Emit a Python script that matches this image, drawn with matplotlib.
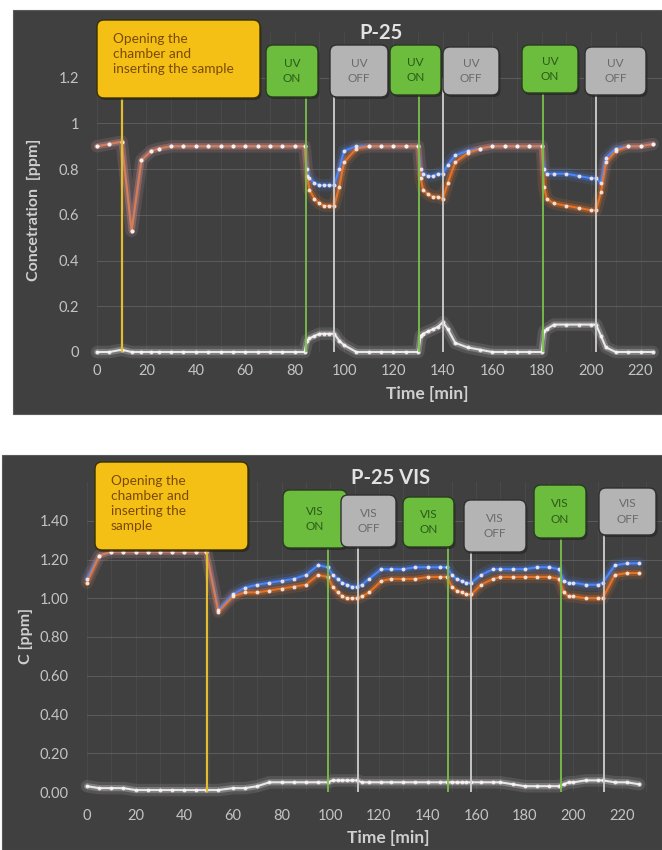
import matplotlib
matplotlib.use('Agg')
import matplotlib.pyplot as plt
from matplotlib.patches import FancyBboxPatch, Rectangle
from matplotlib.transforms import Affine2D

plt.rcParams['font.family'] = ['Lato', 'DejaVu Sans']

# ---- P-25 (UV) data ----
t_top = [0, 5, 10, 14, 18, 22, 25, 30, 35, 40, 45, 50, 55, 60, 65, 70, 75, 80, 84,
         85, 86, 88, 90, 92, 94, 96, 98, 100, 105, 110, 115, 120, 125, 130,
         131, 132, 134, 136, 138, 140, 142, 145, 150, 155, 160, 165, 170, 175, 180,
         181, 182, 185, 190, 195, 200, 202, 204, 206, 210, 215, 220, 225]
blue_top = [0.90, 0.91, 0.92, 0.53, 0.84, 0.88, 0.89, 0.90, 0.90, 0.90, 0.90, 0.90, 0.90, 0.90, 0.90, 0.90, 0.90, 0.90, 0.90,
            0.80, 0.76, 0.74, 0.73, 0.73, 0.73, 0.73, 0.80, 0.88, 0.90, 0.90, 0.90, 0.90, 0.90, 0.90,
            0.80, 0.78, 0.77, 0.77, 0.78, 0.78, 0.82, 0.86, 0.88, 0.89, 0.90, 0.90, 0.90, 0.90, 0.90,
            0.80, 0.78, 0.78, 0.78, 0.77, 0.76, 0.76, 0.74, 0.85, 0.89, 0.90, 0.90, 0.91]
orange_top = [0.90, 0.91, 0.92, 0.53, 0.84, 0.88, 0.89, 0.90, 0.90, 0.90, 0.90, 0.90, 0.90, 0.90, 0.90, 0.90, 0.90, 0.90, 0.90,
              0.77, 0.71, 0.67, 0.65, 0.64, 0.64, 0.64, 0.72, 0.83, 0.89, 0.90, 0.90, 0.90, 0.90, 0.90,
              0.76, 0.71, 0.69, 0.68, 0.68, 0.67, 0.74, 0.83, 0.87, 0.89, 0.90, 0.90, 0.90, 0.90, 0.90,
              0.72, 0.67, 0.65, 0.64, 0.63, 0.62, 0.62, 0.70, 0.83, 0.88, 0.90, 0.90, 0.91]
white_top = [0.00, 0.00, 0.01, 0.00, 0.00, 0.00, 0.00, 0.00, 0.00, 0.00, 0.00, 0.00, 0.00, 0.00, 0.00, 0.00, 0.00, 0.00, 0.00,
             0.05, 0.06, 0.07, 0.08, 0.08, 0.08, 0.08, 0.05, 0.03, 0.00, 0.00, 0.00, 0.00, 0.00, 0.00,
             0.07, 0.08, 0.09, 0.10, 0.11, 0.13, 0.10, 0.04, 0.02, 0.01, 0.00, 0.00, 0.00, 0.00, 0.00,
             0.09, 0.10, 0.12, 0.12, 0.12, 0.12, 0.12, 0.07, 0.02, 0.00, 0.00, 0.00, 0.00]
events_top = [10, 84.5, 96, 130.5, 140, 180.5, 202]
kinds_top = ['open', 'on', 'off', 'on', 'off', 'on', 'off']
labels_top = ['Opening the\nchamber and\ninserting the sample',
              'UV\nON', 'UV\nOFF', 'UV\nON', 'UV\nOFF', 'UV\nON', 'UV\nOFF']

# ---- P-25 VIS data ----
t_bot = [0, 5, 10, 15, 20, 25, 30, 35, 40, 45, 49, 54, 60, 65, 70, 75, 80, 85, 90, 95,
         99, 101, 103, 105, 107, 109, 111, 113, 116, 121, 125, 130, 135, 140, 145,
         148, 150, 152, 154, 156, 158, 162, 167, 170, 175, 180, 185, 190, 194,
         196, 198, 200, 205, 210, 212, 217, 222, 227]
blue_bot = [1.10, 1.22, 1.24, 1.24, 1.24, 1.24, 1.24, 1.24, 1.24, 1.24, 1.24, 0.94, 1.02, 1.055, 1.07, 1.08, 1.09, 1.10, 1.12, 1.17,
            1.16, 1.12, 1.10, 1.08, 1.07, 1.06, 1.06, 1.07, 1.10, 1.15, 1.15, 1.15, 1.16, 1.16, 1.16,
            1.16, 1.12, 1.10, 1.09, 1.08, 1.08, 1.12, 1.15, 1.15, 1.15, 1.15, 1.16, 1.16, 1.15,
            1.09, 1.08, 1.08, 1.07, 1.07, 1.08, 1.17, 1.18, 1.18]
orange_bot = [1.08, 1.22, 1.24, 1.24, 1.24, 1.24, 1.24, 1.24, 1.24, 1.24, 1.24, 0.93, 1.01, 1.03, 1.03, 1.04, 1.05, 1.06, 1.07, 1.12,
              1.11, 1.06, 1.03, 1.01, 1.00, 1.00, 1.00, 1.01, 1.03, 1.09, 1.10, 1.10, 1.10, 1.11, 1.11,
              1.11, 1.06, 1.04, 1.03, 1.02, 1.02, 1.07, 1.10, 1.11, 1.11, 1.11, 1.11, 1.11, 1.10,
              1.03, 1.01, 1.01, 1.00, 1.00, 1.00, 1.12, 1.13, 1.13]
white_bot = [0.03, 0.02, 0.02, 0.02, 0.01, 0.01, 0.01, 0.01, 0.01, 0.01, 0.01, 0.01, 0.02, 0.02, 0.03, 0.05, 0.05, 0.05, 0.05, 0.05,
             0.05, 0.06, 0.06, 0.06, 0.06, 0.06, 0.06, 0.05, 0.05, 0.05, 0.05, 0.05, 0.05, 0.05, 0.05,
             0.05, 0.05, 0.05, 0.05, 0.05, 0.05, 0.05, 0.05, 0.05, 0.04, 0.03, 0.03, 0.03, 0.03,
             0.04, 0.05, 0.05, 0.06, 0.06, 0.06, 0.05, 0.05, 0.04]
events_bot = [49.3, 99, 111.4, 148.4, 157.9, 194.9, 212.6]
kinds_bot = ['open', 'on', 'off', 'on', 'off', 'on', 'off']
labels_bot = ['Opening the\nchamber and\ninserting the\nsample',
              'VIS\nON', 'VIS\nOFF', 'VIS\nON', 'VIS\nOFF', 'VIS\nON', 'VIS\nOFF']

# layout (pixels, top-left origin): boxes as (x0, y0, x1, y1)
boxes_top = [(97, 20, 260, 98), (266, 45, 318, 97), (330, 45, 388, 97), (390, 45, 441, 95),
             (443, 47, 499, 95), (522, 45, 578, 93), (585, 47, 646, 95)]
boxes_bot = [(95, 462, 248, 550), (283, 490, 347, 548), (341, 495, 396, 547), (403, 497, 454, 547),
             (464, 500, 526, 552), (534, 485, 586, 538), (599, 488, 656, 535)]

W, H = 662, 850
BG = '#404040'
face = {'open': '#f5c016', 'on': '#6cbd3e', 'off': '#b4b4b4'}
edge = {'open': '#3a3000', 'on': '#2a3a20', 'off': '#303030'}
tcol = {'open': '#7a4a05', 'on': '#2b5a18', 'off': '#6a6a6a'}
vcol = {'open': '#e2bd30', 'on': '#79c04a', 'off': '#cfcfcf'}
LBL = '#cfcfcf'

fig = plt.figure(figsize=(W / 100, H / 100), dpi=100, facecolor='white')
px = Affine2D().scale(1 / W, -1 / H).translate(0, 1) + fig.transFigure

# dark panels
fig.patches.append(Rectangle((13, 10), W - 13, 404, transform=px, facecolor=BG, edgecolor='#5a5a5a', lw=0.8, zorder=-2))
fig.patches.append(Rectangle((2, 455), W - 2, H - 455, transform=px, facecolor=BG, edgecolor='#5a5a5a', lw=0.8, zorder=-2))


def glow(ax, t, y, c, a=1.0):
    ax.plot(t, y, color=c, lw=9, alpha=0.12, solid_capstyle='round', clip_on=False, zorder=3)
    ax.plot(t, y, color=c, lw=4.5, alpha=0.28, solid_capstyle='round', clip_on=False, zorder=3)
    ax.plot(t, y, color=c, lw=1.5, alpha=a, clip_on=False, zorder=4)
    ax.plot(t, y, 'o', ms=2.8, color='#fff4f4', alpha=0.85, mec='none', clip_on=False, zorder=5)


def setup(ax, xmax, ymax, yticks, fmt, xpad, ypad):
    ax.set_facecolor(BG)
    ax.set_xlim(0, xmax)
    ax.set_ylim(0, ymax)
    for s in ax.spines.values():
        s.set_visible(False)
    ax.set_xticks(range(0, 221, 20))
    ax.set_xticks(range(0, int(xmax) + 1, 10), minor=True)
    ax.set_yticks(yticks)
    ax.set_yticklabels([fmt.format(v) for v in yticks])
    ax.tick_params(which='both', length=0, colors='#c4c4c4', labelsize=10.5)
    ax.tick_params(axis='x', pad=xpad)
    ax.tick_params(axis='y', pad=ypad)
    ax.grid(axis='y', color='#5c5c5c', lw=0.7)
    ax.grid(axis='x', which='both', color='#4b4b4b', lw=0.6)
    ax.set_axisbelow(True)


def events(ax, ev, kinds, top):
    for t, k in zip(ev, kinds):
        ax.vlines(t, 0, top, color=vcol[k], lw=1.6 if k == 'open' else 1.3, zorder=6, clip_on=False)


def callouts(boxes, kinds, labels):
    for (x0, y0, x1, y1), k, lab in zip(boxes, kinds, labels):
        fig.patches.append(FancyBboxPatch((x0 + 1.5, y0 + 2), x1 - x0, y1 - y0, transform=px,
                                          boxstyle='round,pad=0,rounding_size=7', facecolor='#202020',
                                          edgecolor='none', alpha=0.6, zorder=2))
        fig.patches.append(FancyBboxPatch((x0, y0), x1 - x0, y1 - y0, transform=px,
                                          boxstyle='round,pad=0,rounding_size=7', facecolor=face[k],
                                          edgecolor=edge[k], lw=1.0, zorder=3))
        if k == 'open':
            fig.text((x0 + 16) / W, 1 - (y0 + 13) / H, lab, fontsize=9.8, color=tcol[k], va='top',
                     ha='left', linespacing=1.3, zorder=4)
        else:
            fig.text((x0 + x1) / 2 / W, 1 - (y0 + y1) / 2 / H, lab, fontsize=8.5, color=tcol[k],
                     va='center', ha='center', linespacing=1.5, zorder=4)


# ---- top chart ----
ax1 = fig.add_axes([97 / W, 1 - 352 / H, (W - 97) / W, 320 / H])
setup(ax1, 228.7, 1.4, [0, 0.2, 0.4, 0.6, 0.8, 1.0, 1.2], '{:g}', 9, 13)
events(ax1, events_top, kinds_top, 1.2)
glow(ax1, t_top, white_top, '#e8e8e8')
glow(ax1, t_top, blue_top, '#4a86ff')
glow(ax1, t_top, orange_top, '#ff7a22', 0.8)
callouts(boxes_top, kinds_top, labels_top)
fig.text(381 / W, 1 - 33 / H, 'P-25', fontsize=14.5, fontweight='bold', color='#e2e2e2', ha='center', va='center')
fig.text(34 / W, 1 - 210 / H, 'Concetration  [ppm]', fontsize=11.5, fontweight='bold', color=LBL,
         rotation=90, ha='center', va='center')
fig.text(427 / W, 1 - 394 / H, 'Time [min]', fontsize=12.5, fontweight='bold', color=LBL, ha='center', va='center')

# ---- bottom chart ----
ax2 = fig.add_axes([87 / W, 1 - 792 / H, (W - 87) / W, 310 / H])
setup(ax2, 236.4, 1.6, [0, 0.2, 0.4, 0.6, 0.8, 1.0, 1.2, 1.4], '{:.2f}', 12, 13)
events(ax2, events_bot, kinds_bot, 1.4)
glow(ax2, t_bot, white_bot, '#e8e8e8')
glow(ax2, t_bot, blue_bot, '#4a86ff')
glow(ax2, t_bot, orange_bot, '#ff7a22', 0.8)
callouts(boxes_bot, kinds_bot, labels_bot)
fig.text(391 / W, 1 - 478 / H, 'P-25 VIS', fontsize=14.5, fontweight='bold', color='#e2e2e2', ha='center', va='center')
fig.text(26 / W, 1 - 636 / H, 'C [ppm]', fontsize=11.5, fontweight='bold', color=LBL,
         rotation=90, ha='center', va='center')
fig.text(388 / W, 1 - 838 / H, 'Time [min]', fontsize=12.5, fontweight='bold', color=LBL, ha='center', va='center')

fig.savefig('out.png', dpi=100, facecolor='white')
